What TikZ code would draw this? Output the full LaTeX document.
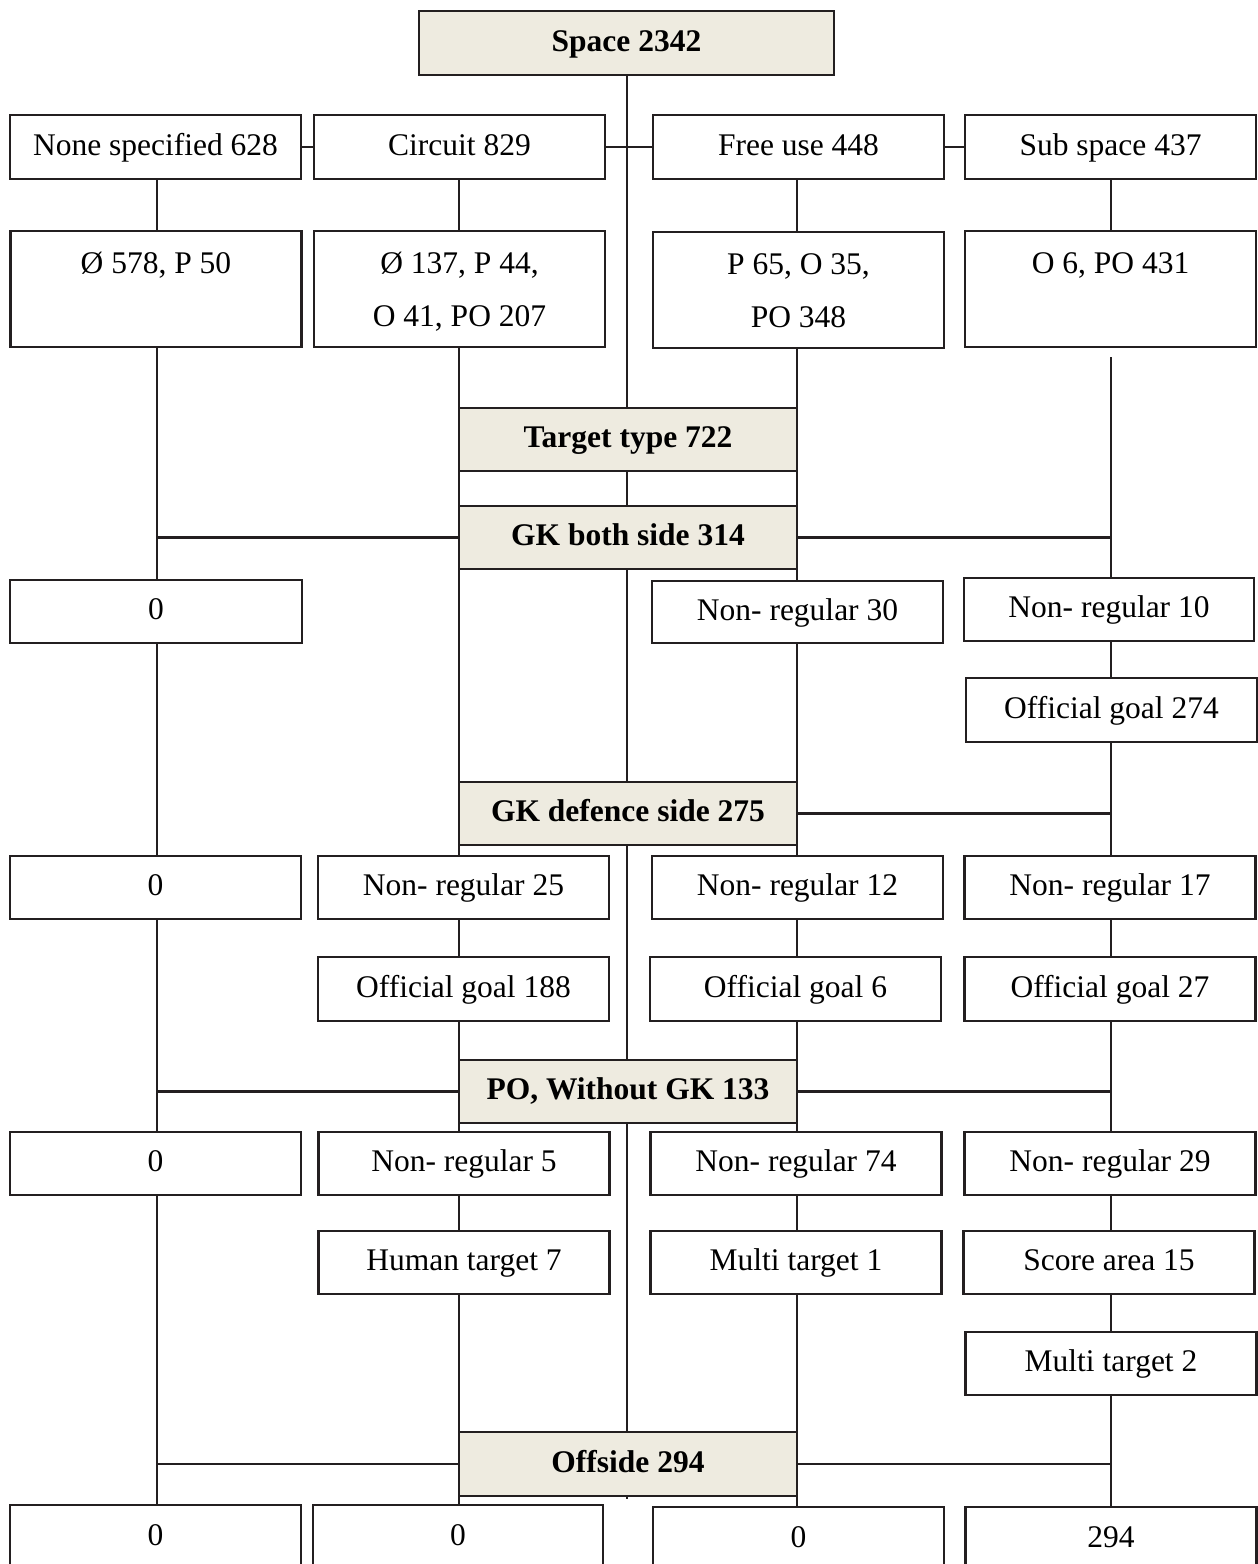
\documentclass[tikz,border=0pt]{standalone}
\usepackage{fontspec}
\setmainfont{Liberation Serif}
\usetikzlibrary{backgrounds}
\definecolor{ink}{RGB}{35,31,32}
\definecolor{stagefill}{RGB}{238,235,224}
\begin{document}
\begin{tikzpicture}[x=1pt,y=-1pt,
  basebox/.style={draw=ink, line width=2.3pt, fill=white, inner sep=0pt,
    minimum width=291pt, minimum height=63pt,
    font=\fontsize{31.5}{53}\selectfont, align=center},
  box/.style={basebox, text height=22pt, text depth=6pt},
  stage/.style={box, fill=stagefill, minimum width=338pt,
    font=\fontsize{31.5}{53}\selectfont\bfseries},
  tall/.style={basebox, minimum height=116pt},
  link/.style={draw=ink, line width=2.1pt}]
\useasboundingbox (0,0) rectangle (1258,1564);

% column lines
\coordinate (cA) at (157,0);
\coordinate (cB) at (459,0);
\coordinate (cT) at (627,0);
\coordinate (cC) at (797,0);
\coordinate (cD) at (1111,0);

% root
\node[stage, minimum width=415pt, minimum height=64pt] (space) at (626.5,43) {Space 2342};

% first level
\node[box, minimum height=64pt] (n1a) at (155.5,147) {None specified 628};
\node[box, minimum height=64pt] (n1b) at (459.5,147) {Circuit 829};
\node[box, minimum height=64pt] (n1c) at (798.5,147) {Free use 448};
\node[box, minimum height=64pt] (n1d) at (1110.5,147) {Sub space 437};

% second level
\node[tall] (n2a) at (156,289) {\strut Ø 578, P 50\\ \strut};
\node[tall] (n2b) at (459.5,289) {\strut Ø 137, P 44,\\ \strut O 41, PO 207};
\node[tall] (n2c) at (798.5,290) {\strut P 65, O 35,\\ \strut PO 348};
\node[tall] (n2d) at (1110.5,289) {\strut O 6, PO 431\\ \strut};
\coordinate (d2gap) at (1111,357);

% stages
\node[stage] (target) at (628,439.5) {Target type 722};
\node[stage] (gkboth) at (628,537.5) {GK both side 314};
\node[stage] (gkdef) at (628,813.5) {GK defence side 275};
\node[stage] (po) at (628,1091.5) {PO, Without GK 133};
\node[stage, minimum height=64pt] (offside) at (628,1464) {Offside 294};
\coordinate (tick) at (627,1499);

% after GK both side
\node[box, minimum width=292pt] (n3a) at (156,611.5) {0};
\node[box, minimum height=62pt] (n3c) at (797.5,612) {Non- regular 30};
\node[box, minimum width=290pt] (n3d) at (1109,609.5) {Non- regular 10};
\node[box, minimum height=64pt] (n3e) at (1111.5,710) {Official goal 274};

% after GK defence side
\node[box] (n4a) at (155.5,887.5) {0};
\node[box] (n4b) at (463.5,887.5) {Non- regular 25};
\node[box] (n4c) at (797.5,887.5) {Non- regular 12};
\node[box] (n4d) at (1110,887.5) {Non- regular 17};
\node[box, minimum height=64pt] (n5b) at (463.5,989) {Official goal 188};
\node[box, minimum height=64pt] (n5c) at (795.5,989) {Official goal 6};
\node[box, minimum height=64pt] (n5d) at (1110,989) {Official goal 27};

% after PO, without GK
\node[box] (n6a) at (155.5,1163.5) {0};
\node[box] (n6b) at (464,1163.5) {Non- regular 5};
\node[box] (n6c) at (796,1163.5) {Non- regular 74};
\node[box] (n6d) at (1110,1163.5) {Non- regular 29};
\node[box] (n7b) at (464,1262.5) {Human target 7};
\node[box] (n7c) at (796,1262.5) {Multi target 1};
\node[box] (n7d) at (1109,1262.5) {Score area 15};
\node[box] (n8d) at (1111,1363.5) {Multi target 2};

% after offside
\node[box, minimum height=64pt] (n9a) at (155.5,1537) {0};
\node[box, minimum width=290pt, minimum height=64pt] (n9b) at (458,1537) {0};
\node[box, minimum height=64pt] (n9c) at (798.5,1539) {0};
\node[box, minimum height=64pt] (n9d) at (1111,1539) {294};

\begin{scope}[on background layer]
% first row side links
\draw[link] (n1a.east) -- (n1b.west);
\draw[link] (n1b.east) -- (n1c.west);
\draw[link] (n1c.east) -- (n1d.west);

% trunk
\draw[link] (cT |- space.south) -- (cT |- target.north);
\draw[link] (cT |- target.south) -- (cT |- gkboth.north);
\draw[link] (cT |- gkboth.south) -- (cT |- gkdef.north);
\draw[link] (cT |- gkdef.south) -- (cT |- po.north);
\draw[link] (cT |- po.south) -- (tick);

% column A
\draw[link] (cA |- n1a.south) -- (cA |- n2a.north);
\draw[link] (cA |- n2a.south) -- (cA |- n3a.north);
\draw[link] (cA |- gkboth.west) -- (gkboth.west);
\draw[link] (cA |- n3a.south) -- (cA |- n4a.north);
\draw[link] (cA |- n4a.south) -- (cA |- n6a.north);
\draw[link] (cA |- po.west) -- (po.west);
\draw[link] (cA |- n6a.south) -- (cA |- n9a.north);
\draw[link] (cA |- offside.west) -- (offside.west);

% column B
\draw[link] (cB |- n1b.south) -- (cB |- n2b.north);
\draw[link] (cB |- n2b.south) -- (cB |- target.north);
\draw[link] (cB |- target.south) -- (cB |- gkboth.north);
\draw[link] (cB |- gkboth.south) -- (cB |- gkdef.north);
\draw[link] (cB |- gkdef.south) -- (cB |- n4b.north);
\draw[link] (cB |- n4b.south) -- (cB |- n5b.north);
\draw[link] (cB |- n5b.south) -- (cB |- po.north);
\draw[link] (cB |- po.south) -- (cB |- n6b.north);
\draw[link] (cB |- n6b.south) -- (cB |- n7b.north);
\draw[link] (cB |- n7b.south) -- (cB |- offside.north);
\draw[link] (cB |- offside.south) -- (cB |- n9b.north);

% column C
\draw[link] (cC |- n1c.south) -- (cC |- n2c.north);
\draw[link] (cC |- n2c.south) -- (cC |- target.north);
\draw[link] (cC |- target.south) -- (cC |- gkboth.north);
\draw[link] (cC |- gkboth.south) -- (cC |- n3c.north);
\draw[link] (cC |- n3c.south) -- (cC |- gkdef.north);
\draw[link] (cC |- gkdef.south) -- (cC |- n4c.north);
\draw[link] (cC |- n4c.south) -- (cC |- n5c.north);
\draw[link] (cC |- n5c.south) -- (cC |- po.north);
\draw[link] (cC |- po.south) -- (cC |- n6c.north);
\draw[link] (cC |- n6c.south) -- (cC |- n7c.north);
\draw[link] (cC |- n7c.south) -- (cC |- offside.north);
\draw[link] (cC |- offside.south) -- (cC |- n9c.north);

% column D
\draw[link] (cD |- n1d.south) -- (cD |- n2d.north);
\draw[link] (d2gap) -- (cD |- n3d.north);
\draw[link] (gkboth.east) -- (cD |- gkboth.east);
\draw[link] (cD |- n3d.south) -- (cD |- n3e.north);
\draw[link] (cD |- n3e.south) -- (cD |- n4d.north);
\draw[link] (gkdef.east) -- (cD |- gkdef.east);
\draw[link] (cD |- n4d.south) -- (cD |- n5d.north);
\draw[link] (cD |- n5d.south) -- (cD |- n6d.north);
\draw[link] (po.east) -- (cD |- po.east);
\draw[link] (cD |- n6d.south) -- (cD |- n7d.north);
\draw[link] (cD |- n7d.south) -- (cD |- n8d.north);
\draw[link] (cD |- n8d.south) -- (cD |- n9d.north);
\draw[link] (offside.east) -- (cD |- offside.east);
\end{scope}
\end{tikzpicture}
\end{document}
